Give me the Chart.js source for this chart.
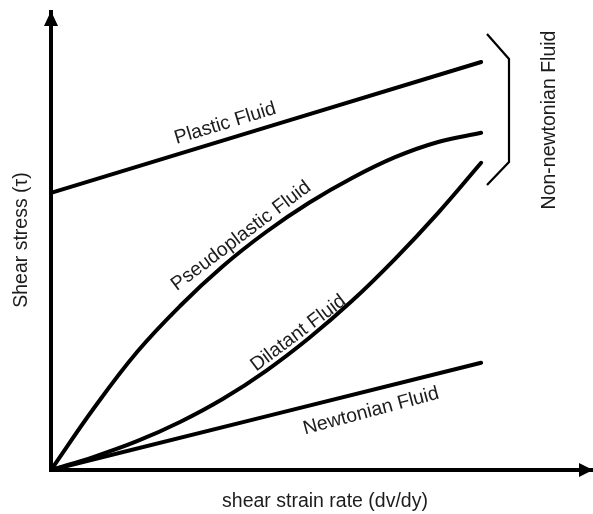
<!DOCTYPE html>
<html>
<head>
<meta charset="utf-8">
<script src="https://cdn.jsdelivr.net/npm/chart.js@4.4.0/dist/chart.umd.min.js"></script>
<style>
  html, body { margin: 0; padding: 0; background: #fff; }
  #wrap { width: 593px; height: 514px; }
</style>
</head>
<body>
<div id="wrap"><canvas id="chart"></canvas></div>
<script>
// shear strain rate samples (arbitrary units)
const strainRate = [0, 1, 2, 3, 4, 5, 6, 7, 8, 9, 10];
const lineEnds = [0, 10];

// shear stress
const pseudoplastic = [0, 1.55, 2.95, 4.1, 5.1, 5.95, 6.68, 7.3, 7.82, 8.2, 8.43];
const dilatant = [0, 0.33, 0.72, 1.2, 1.78, 2.48, 3.3, 4.23, 5.28, 6.43, 7.68];
const plastic = [6.93, 10.2];
const newtonian = [0, 2.68];

const seriesNames = ['Plastic Fluid', 'Pseudoplastic Fluid', 'Dilatant Fluid', 'Newtonian Fluid'];

function toPoints(xs, ys) {
  return xs.map((x, i) => ({ x: x, y: ys[i] }));
}

const FONT = '19.5px "Liberation Sans", Arial, sans-serif';
const INK = '#1c1c1c';

// where each curve label sits (data coords) and its tilt
const labelSpots = [
  { x: 4.05, y: 8.66, angle: -17 },
  { x: 4.42, y: 5.85, angle: -37 },
  { x: 5.75, y: 3.42, angle: -37 },
  { x: 7.44, y: 1.47, angle: -15 }
];

const decorations = {
  id: 'decorations',
  afterDraw(chart) {
    const ctx = chart.ctx;
    const area = chart.chartArea;
    const xs = chart.scales.x;
    const ys = chart.scales.y;
    ctx.save();

    // arrow heads
    ctx.fillStyle = '#000';
    ctx.beginPath();
    ctx.moveTo(area.left, area.top - 1);
    ctx.lineTo(area.left - 7, area.top + 14);
    ctx.lineTo(area.left + 7, area.top + 14);
    ctx.closePath();
    ctx.fill();
    ctx.beginPath();
    ctx.moveTo(area.right, area.bottom);
    ctx.lineTo(area.right - 14, area.bottom - 7);
    ctx.lineTo(area.right - 14, area.bottom + 7);
    ctx.closePath();
    ctx.fill();

    // bracket for the non-newtonian group
    ctx.strokeStyle = '#000';
    ctx.lineWidth = 2.2;
    ctx.lineJoin = 'miter';
    ctx.beginPath();
    ctx.moveTo(487, 34);
    ctx.lineTo(509, 59);
    ctx.lineTo(509, 162);
    ctx.lineTo(487, 185);
    ctx.stroke();

    ctx.fillStyle = INK;
    ctx.font = FONT;
    ctx.textAlign = 'center';
    ctx.textBaseline = 'middle';

    seriesNames.forEach((name, i) => {
      const s = labelSpots[i];
      ctx.save();
      ctx.translate(xs.getPixelForValue(s.x), ys.getPixelForValue(s.y));
      ctx.rotate(s.angle * Math.PI / 180);
      ctx.fillText(name, 0, 0);
      ctx.restore();
    });

    // axis titles
    ctx.fillText('shear strain rate (dv/dy)', 325, 502);
    ctx.save();
    ctx.translate(22, 240);
    ctx.rotate(-Math.PI / 2);
    ctx.fillText('Shear stress (\u03C4)', 0, 0);
    ctx.restore();
    ctx.save();
    ctx.translate(550, 120);
    ctx.rotate(-Math.PI / 2);
    ctx.fillText('Non-newtonian Fluid', 0, 0);
    ctx.restore();

    ctx.restore();
  }
};

const lineStyle = {
  borderColor: '#000',
  borderWidth: 4,
  pointRadius: 0,
  fill: false,
  borderCapStyle: 'round',
  tension: 0.4,
  clip: 12
};

new Chart(document.getElementById('chart'), {
  type: 'line',
  data: {
    datasets: [
      { label: seriesNames[0], data: toPoints(lineEnds, plastic), ...lineStyle },
      { label: seriesNames[1], data: toPoints(strainRate, pseudoplastic), ...lineStyle },
      { label: seriesNames[2], data: toPoints(strainRate, dilatant), ...lineStyle },
      { label: seriesNames[3], data: toPoints(lineEnds, newtonian), ...lineStyle }
    ]
  },
  options: {
    responsive: true,
    maintainAspectRatio: false,
    animation: false,
    layout: { padding: { left: 51, right: 0, top: 12, bottom: 44 } },
    plugins: { legend: { display: false }, tooltip: { enabled: false } },
    scales: {
      x: {
        type: 'linear', min: 0, max: 12.6,
        ticks: { display: false },
        grid: { display: false },
        border: { display: true, color: '#000', width: 4 },
        afterFit(scale) { scale.height = 0; }
      },
      y: {
        type: 'linear', min: 0, max: 11.45,
        ticks: { display: false },
        grid: { display: false },
        border: { display: true, color: '#000', width: 4 },
        afterFit(scale) { scale.width = 0; }
      }
    }
  },
  plugins: [decorations]
});
</script>
</body>
</html>
